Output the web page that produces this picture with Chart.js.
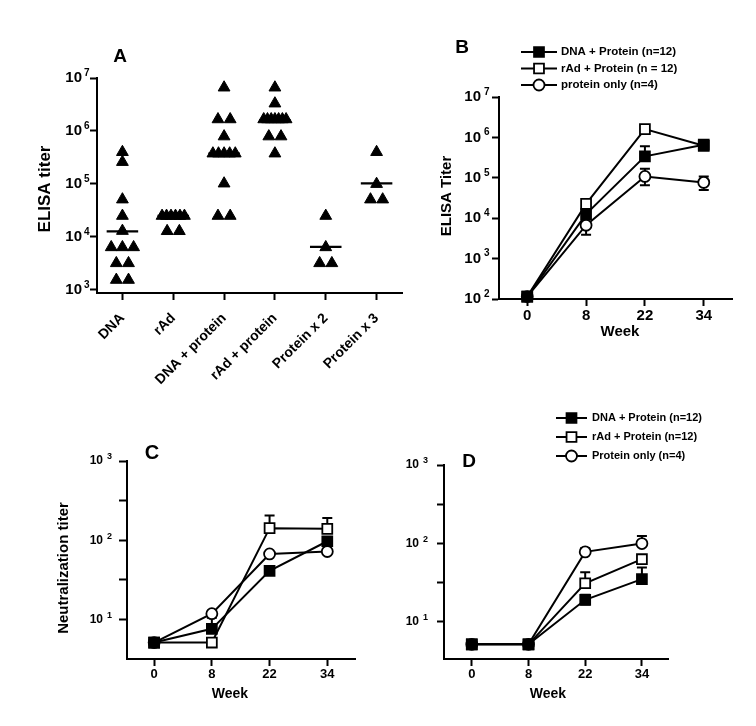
<!DOCTYPE html>
<html>
<head>
<meta charset="utf-8">
<script src="https://cdn.jsdelivr.net/npm/chart.js@4.4.0/dist/chart.umd.min.js"></script>
<style>
  html, body { margin: 0; background: #fff; }
  #stage { position: relative; width: 756px; height: 726px; }
  #stage canvas { position: absolute; left: 0; top: 0; }
</style>
</head>
<body>
<div id="stage">
  <canvas id="panelA" width="756" height="726"></canvas>
  <canvas id="panelB" width="756" height="726"></canvas>
  <canvas id="panelC" width="756" height="726"></canvas>
  <canvas id="panelD" width="756" height="726"></canvas>
</div>
<script>
'use strict';

const FONT = "'Liberation Sans', Arial, Helvetica, sans-serif";

// Panel A: ELISA titers per animal
const groupsA = ['DNA', 'rAd', 'DNA + protein', 'rAd + protein', 'Protein x 2', 'Protein x 3'];
const titerDna = [4.0e5, 2.6e5, 5.1e4, 2.5e4, 1.3e4, 6.4e3, 6.4e3, 6.4e3, 3.2e3, 3.2e3, 1.55e3, 1.55e3];
const titerRad = [2.5e4, 2.5e4, 2.5e4, 2.5e4, 2.5e4, 2.5e4, 1.29e4, 1.29e4];
const titerDnaProt = [6.6e6, 1.66e6, 1.66e6, 7.9e5, 3.76e5, 3.76e5, 3.76e5, 3.76e5, 3.76e5, 1.02e5, 2.5e4, 2.5e4];
const titerRadProt = [6.6e6, 3.3e6, 1.66e6, 1.66e6, 1.66e6, 1.66e6, 1.66e6, 1.66e6, 1.66e6, 7.9e5, 7.9e5, 3.76e5];
const titerProt2 = [2.5e4, 6.4e3, 3.2e3, 3.2e3];
const titerProt3 = [4.0e5, 1.0e5, 5.1e4, 5.1e4];
const mediansA = [1.28e4, 2.5e4, 3.76e5, 1.6e6, 6.5e3, 1.03e5];
const ticksA = [1e3, 1e4, 1e5, 1e6, 1e7];

// Panels B-D: group means over time
const weeks = ['0', '8', '22', '34'];
const namesB = ['DNA + Protein (n=12)', 'rAd + Protein (n = 12)', 'protein only (n=4)'];
const namesD = ['DNA + Protein (n=12)', 'rAd + Protein (n=12)', 'Protein only (n=4)'];

const elisaDnaProt = [115, 1.26e4, 3.4e5, 6.6e5];
const elisaDnaProtHi = [null, 1.6e4, 6.0e5, 8.5e5];
const elisaRadProt = [115, 2.26e4, 1.6e6, 6.2e5];
const elisaProtOnly = [115, 6.7e3, 1.08e5, 7.7e4];
const elisaProtOnlyHi = [null, 1.1e4, 1.67e5, 1.07e5];
const elisaProtOnlyLo = [null, 3.9e3, 6.5e4, 5.0e4];
const ticksB = [1e2, 1e3, 1e4, 1e5, 1e6, 1e7];

const neutCDnaProt = [5.1, 7.6, 41, 97];
const neutCDnaProtHi = [null, 10.5, null, null];
const neutCRadProt = [5.1, 5.1, 142, 139];
const neutCRadProtHi = [null, null, 205, 190];
const neutCProtOnly = [5.1, 11.8, 67, 72];

const neutDDnaProt = [5.1, 5.1, 18.9, 34.7];
const neutDDnaProtHi = [null, null, 22, 49];
const neutDDnaProtLo = [null, null, 16.5, null];
const neutDRadProt = [5.1, 5.1, 30.8, 62.5];
const neutDRadProtHi = [null, null, 42.7, null];
const neutDProtOnly = [5.1, 5.1, 77.5, 99];
const neutDProtOnlyHi = [null, null, 86, 124];
const ticksNeut = [10, 31.62, 100, 316.2, 1000];

// spread identical values sideways like a column scatter
function spreadGroup(values, idx) {
  const counts = {};
  values.forEach((v) => { counts[v] = (counts[v] || 0) + 1; });
  const seen = {};
  return values.map((v) => {
    const n = counts[v];
    seen[v] = (seen[v] ?? -1) + 1;
    const step = n > 1 ? Math.min(0.24, 0.44 / (n - 1)) : 0;
    return { x: idx + (seen[v] - (n - 1) / 2) * step, y: v };
  });
}

const axisStyle = (tickLength) => ({
  grid: { display: true, drawOnChartArea: false, drawTicks: true, tickLength, tickWidth: 2, tickColor: '#000' },
  border: { display: true, color: '#000', width: 2 }
});

const panelText = {
  id: 'panelText',
  afterDraw(chart, args, opts) {
    const { ctx } = chart;
    (opts.items || []).forEach((t) => {
      ctx.save();
      ctx.font = `bold ${t.size}px ${FONT}`;
      ctx.fillStyle = '#000';
      ctx.textAlign = 'center';
      ctx.textBaseline = 'middle';
      ctx.translate(t.x, t.y);
      if (t.rotate) ctx.rotate(-Math.PI / 2);
      ctx.fillText(t.text, 0, 0);
      ctx.restore();
    });
  }
};

const expTicks = {
  id: 'expTicks',
  afterDraw(chart, args, o) {
    const { ctx } = chart;
    const scale = chart.scales.y;
    scale.ticks.forEach(({ value }) => {
      const exp = Math.log10(value);
      if (Math.abs(exp - Math.round(exp)) > 1e-6) return;
      const y = scale.getPixelForValue(value);
      ctx.save();
      ctx.fillStyle = '#000';
      ctx.textBaseline = 'middle';
      ctx.font = `bold ${o.size}px ${FONT}`;
      ctx.textAlign = 'right';
      ctx.fillText('10', o.right, y);
      ctx.font = `bold ${o.supSize}px ${FONT}`;
      ctx.textAlign = 'left';
      ctx.fillText(String(Math.round(exp)), o.right + o.gap, y - o.rise);
      ctx.restore();
    });
  }
};

const errorBars = {
  id: 'errorBars',
  beforeDatasetsDraw(chart) {
    const { ctx } = chart;
    const yScale = chart.scales.y;
    chart.data.datasets.forEach((ds, i) => {
      const meta = chart.getDatasetMeta(i);
      meta.data.forEach((pt, j) => {
        const ends = [ds.errHi && ds.errHi[j], ds.errLo && ds.errLo[j]];
        ends.forEach((v) => {
          if (v == null) return;
          const yv = yScale.getPixelForValue(v);
          ctx.save();
          ctx.strokeStyle = '#000';
          ctx.lineWidth = 2;
          ctx.beginPath();
          ctx.moveTo(pt.x, pt.y);
          ctx.lineTo(pt.x, yv);
          ctx.moveTo(pt.x - 5, yv);
          ctx.lineTo(pt.x + 5, yv);
          ctx.stroke();
          ctx.restore();
        });
      });
    });
  }
};

const seriesLegend = {
  id: 'seriesLegend',
  afterDraw(chart, args, o) {
    if (!o.x) return;
    const { ctx } = chart;
    chart.data.datasets.forEach((ds, i) => {
      const y = o.y + i * o.step;
      ctx.save();
      ctx.strokeStyle = '#000';
      ctx.lineWidth = 2;
      ctx.beginPath();
      ctx.moveTo(o.x, y);
      ctx.lineTo(o.x + o.len, y);
      ctx.stroke();
      ctx.fillStyle = ds.pointBackgroundColor;
      ctx.lineWidth = ds.pointBorderWidth;
      Chart.helpers.drawPoint(ctx, {
        pointStyle: ds.pointStyle, radius: ds.pointRadius, borderWidth: ds.pointBorderWidth, rotation: 0
      }, o.x + o.len / 2, y);
      ctx.fillStyle = '#000';
      ctx.font = `bold ${o.size}px ${FONT}`;
      ctx.textAlign = 'left';
      ctx.textBaseline = 'middle';
      ctx.fillText(ds.label, o.x + o.len + o.gap, y);
      ctx.restore();
    });
  }
};

const seriesStyles = [
  { pointStyle: 'rect', pointRadius: 7, pointBackgroundColor: '#000' },
  { pointStyle: 'rect', pointRadius: 7, pointBackgroundColor: '#fff' },
  { pointStyle: 'circle', pointRadius: 5.5, pointBackgroundColor: '#fff' }
];

function timeSeries(names, values, hi, lo) {
  return values.map((vals, s) => ({
    type: 'line',
    label: names[s],
    data: vals.map((v, i) => ({ x: i, y: v })),
    errHi: hi[s],
    errLo: lo[s],
    borderColor: '#000',
    borderWidth: 2,
    pointBorderColor: '#000',
    pointBorderWidth: 1.8,
    pointHoverRadius: 0,
    tension: 0,
    clip: false,
    ...seriesStyles[s]
  }));
}

function logAxis(min, max, ticks, tl) {
  return {
    type: 'logarithmic',
    min,
    max,
    afterFit: (s) => { s.width = 0; },
    afterBuildTicks: (s) => { s.ticks = ticks.map((value) => ({ value })); },
    ticks: { display: false },
    ...axisStyle(tl)
  };
}

// x scales keep a fixed box height so labels are not clipped
const LABEL_BOX = 40;
const LABEL_BOX_A = 110;

function weekAxis(min, max, size) {
  return {
    type: 'linear',
    min,
    max,
    afterFit: (s) => { s.height = LABEL_BOX; },
    afterBuildTicks: (s) => { s.ticks = weeks.map((w, i) => ({ value: i })); },
    ticks: {
      callback: (v) => weeks[v],
      font: { family: FONT, size, weight: 'bold' },
      color: '#000',
      padding: 1,
      maxRotation: 0,
      autoSkip: false
    },
    ...axisStyle(7)
  };
}

const base = (area, box) => ({
  responsive: false,
  animation: false,
  devicePixelRatio: 1,
  events: [],
  layout: { padding: { left: area[0], top: area[1], right: 756 - area[2], bottom: 726 - area[3] - box } },
  plugins: { legend: { display: false }, tooltip: { enabled: false } }
});

// Panel A
const groupValues = [titerDna, titerRad, titerDnaProt, titerRadProt, titerProt2, titerProt3];
const triangles = {
  label: 'titer',
  data: groupValues.flatMap((vals, i) => spreadGroup(vals, i)),
  pointStyle: 'triangle',
  pointRadius: 6.8,
  pointBackgroundColor: '#000',
  pointBorderColor: '#000',
  pointBorderWidth: 1,
  showLine: false,
  clip: false
};
const medianLines = mediansA.map((m, i) => ({
  label: 'median',
  data: [{ x: i - 0.31, y: m }, { x: i + 0.31, y: m }],
  showLine: true,
  borderColor: '#000',
  borderWidth: 2.2,
  pointRadius: 0,
  clip: false
}));

const optsA = base([97, 78, 402, 293], LABEL_BOX_A);
optsA.scales = {
  x: {
    type: 'linear',
    min: -0.5,
    max: 5.5,
    afterFit: (s) => { s.height = LABEL_BOX_A; },
    afterBuildTicks: (s) => { s.ticks = groupsA.map((g, i) => ({ value: i })); },
    ticks: {
      callback: (v) => groupsA[v],
      font: { family: FONT, size: 14, weight: 'bold', lineHeight: 1.4 },
      color: '#000',
      padding: 9,
      minRotation: 45,
      maxRotation: 45,
      autoSkip: false
    },
    ...axisStyle(7)
  },
  y: logAxis(Math.pow(10, 2.943), 1e7, ticksA, 7)
};
optsA.plugins.panelText = { items: [
  { text: 'A', x: 120, y: 57, size: 19 },
  { text: 'ELISA titer', x: 45, y: 189, size: 17, rotate: true }
] };
optsA.plugins.expTicks = { size: 15, supSize: 10, right: 82, gap: 2, rise: 5 };

new Chart(document.getElementById('panelA'), {
  type: 'scatter',
  data: { datasets: [triangles, ...medianLines] },
  options: optsA,
  plugins: [panelText, expTicks]
});

// Panel B
const optsB = base([499, 97, 732, 299], LABEL_BOX);
optsB.scales = { x: weekAxis(-0.48, 3.48, 15), y: logAxis(1e2, 1e7, ticksB, 7) };
optsB.plugins.panelText = { items: [
  { text: 'B', x: 462, y: 48, size: 19 },
  { text: 'ELISA Titer', x: 447, y: 196, size: 15, rotate: true },
  { text: 'Week', x: 620, y: 332, size: 15 }
] };
optsB.plugins.expTicks = { size: 15, supSize: 10, right: 481, gap: 3, rise: 5 };
optsB.plugins.seriesLegend = { x: 521, y: 52, step: 16.5, len: 36, gap: 4, size: 11.5 };

new Chart(document.getElementById('panelB'), {
  type: 'line',
  data: { datasets: timeSeries(namesB,
    [elisaDnaProt, elisaRadProt, elisaProtOnly],
    [elisaDnaProtHi, null, elisaProtOnlyHi],
    [null, null, elisaProtOnlyLo]) },
  options: optsB,
  plugins: [errorBars, panelText, expTicks, seriesLegend]
});

// Panel C
const optsC = base([127, 461, 355, 659], LABEL_BOX);
optsC.scales = { x: weekAxis(-0.47, 3.48, 13), y: logAxis(Math.pow(10, 0.5), 1e3, ticksNeut, 8) };
optsC.plugins.panelText = { items: [
  { text: 'C', x: 152, y: 453, size: 20 },
  { text: 'Neutralization titer', x: 64, y: 568, size: 15, rotate: true },
  { text: 'Week', x: 230, y: 694, size: 14 }
] };
optsC.plugins.expTicks = { size: 12, supSize: 9, right: 103, gap: 4, rise: 4 };

new Chart(document.getElementById('panelC'), {
  type: 'line',
  data: { datasets: timeSeries(namesD,
    [neutCDnaProt, neutCRadProt, neutCProtOnly],
    [neutCDnaProtHi, neutCRadProtHi, null],
    [null, null, null]) },
  options: optsC,
  plugins: [errorBars, panelText, expTicks]
});

// Panel D
const optsD = base([444, 465, 668, 659], LABEL_BOX);
optsD.scales = { x: weekAxis(-0.49, 3.46, 13), y: logAxis(Math.pow(10, 0.52), 1e3, ticksNeut, 7) };
optsD.plugins.panelText = { items: [
  { text: 'D', x: 469, y: 462, size: 19 },
  { text: 'Week', x: 548, y: 694, size: 14 }
] };
optsD.plugins.expTicks = { size: 12, supSize: 9, right: 419, gap: 4, rise: 4 };
optsD.plugins.seriesLegend = { x: 556, y: 418, step: 19, len: 31, gap: 5, size: 11 };

new Chart(document.getElementById('panelD'), {
  type: 'line',
  data: { datasets: timeSeries(namesD,
    [neutDDnaProt, neutDRadProt, neutDProtOnly],
    [neutDDnaProtHi, neutDRadProtHi, neutDProtOnlyHi],
    [neutDDnaProtLo, null, null]) },
  options: optsD,
  plugins: [errorBars, panelText, expTicks, seriesLegend]
});
</script>
</body>
</html>
